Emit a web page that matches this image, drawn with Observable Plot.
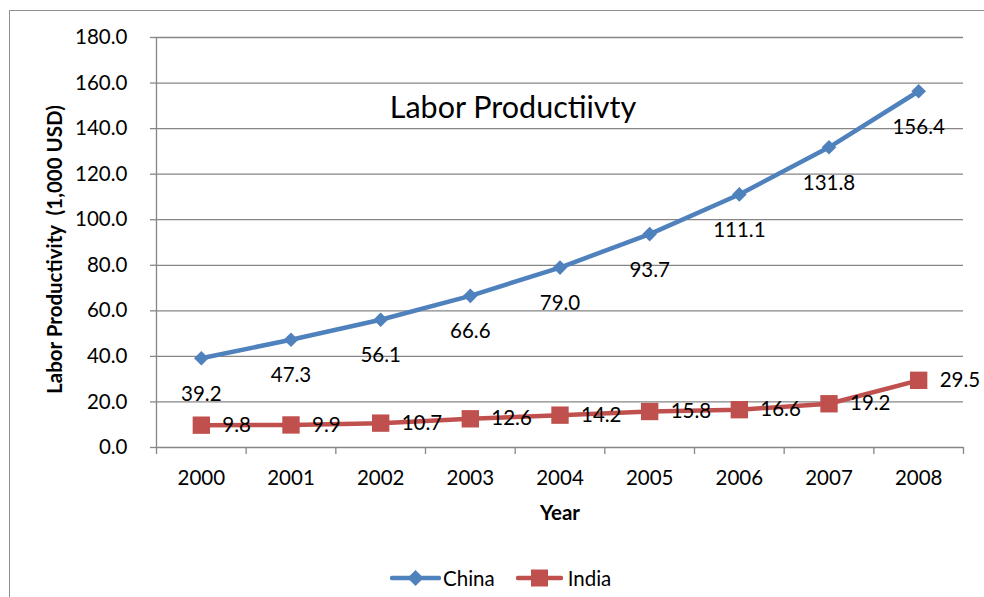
<!DOCTYPE html>
<html>
<head>
<meta charset="utf-8">
<script src="https://cdn.jsdelivr.net/npm/d3@7"></script>
<script src="https://cdn.jsdelivr.net/npm/@observablehq/plot@0.6"></script>
<style>
  html, body { margin: 0; padding: 0; background: #fff; overflow: hidden; width: 984px; height: 597px; }
  body { position: relative; font-family: Lato, "Liberation Sans", sans-serif; }
  #frame { position: absolute; left: 9px; top: 10px; width: 1100px; height: 1000px; border: 1.5px solid #8f8f8f; box-sizing: border-box; }
  #chart { position: absolute; left: 0; top: 0; }
  #legend { position: absolute; left: 390px; top: 566px; height: 24px; display: flex; align-items: center; font-size: 20.5px; color: #000; }
  #legend .item { display: flex; align-items: center; }
  #legend svg { display: block; }
</style>
</head>
<body>
<div id="frame"></div>
<div id="chart"></div>
<div id="legend"></div>
<script>
const years = [2000, 2001, 2002, 2003, 2004, 2005, 2006, 2007, 2008];
const china = [39.2, 47.3, 56.1, 66.6, 79.0, 93.7, 111.1, 131.8, 156.4];
const india = [9.8, 9.9, 10.7, 12.6, 14.2, 15.8, 16.6, 19.2, 29.5];
const yTicks = [0, 20, 40, 60, 80, 100, 120, 140, 160, 180];
const xBounds = [1999.5, 2000.5, 2001.5, 2002.5, 2003.5, 2004.5, 2005.5, 2006.5, 2007.5, 2008.5];
const seriesNames = ["China", "India"];
const seriesColors = ["#4F81BD", "#C0504D"];
const titleText = "Labor Productiivty";
const yLabel = "Labor Productivity\u00a0 (1,000 USD)";
const xLabel = "Year";

const chinaRows = years.map((y, i) => ({year: y, value: china[i]}));
const indiaRows = years.map((y, i) => ({year: y, value: india[i]}));

const gridColor = "#868686";
const fs = 20.5;

const chart = Plot.plot({
  width: 984,
  height: 545,
  marginLeft: 156,
  marginRight: 21,
  marginTop: 37,
  marginBottom: 98,
  x: {domain: [1999.5, 2008.5]},
  y: {domain: [0, 180]},
  style: {fontFamily: "Lato, 'Liberation Sans', sans-serif", fontSize: fs + "px", color: "#000", background: "transparent", overflow: "visible"},
  marks: [
    Plot.ruleY(yTicks, {stroke: gridColor, strokeWidth: 1.3}),
    Plot.ruleX([1999.5], {stroke: gridColor, strokeWidth: 1.3}),
    Plot.axisY({ticks: yTicks, tickSize: 6, tickPadding: 23, tickFormat: d => d.toFixed(1), stroke: gridColor, strokeWidth: 1.3, fontSize: fs, label: null}),
    Plot.axisX({ticks: xBounds, tickSize: 7, tickFormat: () => "", stroke: gridColor, strokeWidth: 1.3, label: null}),
    Plot.text(years, {x: d => d, y: () => 0, dy: 31, text: d => String(d), fontSize: fs, lineAnchor: "middle"}),
    Plot.line(chinaRows, {x: "year", y: "value", stroke: seriesColors[0], strokeWidth: 4.5}),
    Plot.dot(chinaRows, {x: "year", y: "value", symbol: "diamond2", r: 6.6, fill: seriesColors[0]}),
    Plot.line(indiaRows, {x: "year", y: "value", stroke: seriesColors[1], strokeWidth: 4.5}),
    Plot.dot(indiaRows, {x: "year", y: "value", symbol: "square", r: 9.8, fill: seriesColors[1]}),
    Plot.text(chinaRows, {x: "year", y: "value", text: d => d.value.toFixed(1), dy: 36, fontSize: fs, lineAnchor: "middle"}),
    Plot.text(indiaRows, {x: "year", y: "value", text: d => d.value.toFixed(1), dx: 21, textAnchor: "start", fontSize: fs, lineAnchor: "middle"}),
    Plot.text([titleText], {frameAnchor: "top", dx: -47, dy: 71, lineAnchor: "middle", fontSize: 30.5}),
    Plot.text([yLabel], {frameAnchor: "left", rotate: -90, dx: -101, dy: 7, fontWeight: "bold", fontSize: fs, lineAnchor: "middle", textAnchor: "middle"}),
    Plot.text([xLabel], {frameAnchor: "bottom", dy: 66, lineAnchor: "middle", fontWeight: "bold", fontSize: fs})
  ]
});
document.getElementById("chart").appendChild(chart);

// Legend
const legend = document.getElementById("legend");
seriesNames.forEach((name, i) => {
  const item = document.createElement("div");
  item.className = "item";
  item.style.marginLeft = i === 0 ? "0px" : "21px";
  const w = i === 0 ? 51 : 47;
  const c = seriesColors[i];
  const cx = w / 2;
  const marker = i === 0
    ? `<polygon points="${cx},${12-8} ${cx+8},12 ${cx},${12+8} ${cx-8},12" fill="${c}"/>`
    : `<rect x="${cx-8.5}" y="${12-8.5}" width="17" height="17" fill="${c}"/>`;
  item.innerHTML = `<svg width="${w}" height="24"><line x1="2" x2="${w-2}" y1="12" y2="12" stroke="${c}" stroke-width="4.5" stroke-linecap="round"/>${marker}</svg><span style="margin-left:${i===0?2:5}px">${name}</span>`;
  legend.appendChild(item);
});
</script>
</body>
</html>
